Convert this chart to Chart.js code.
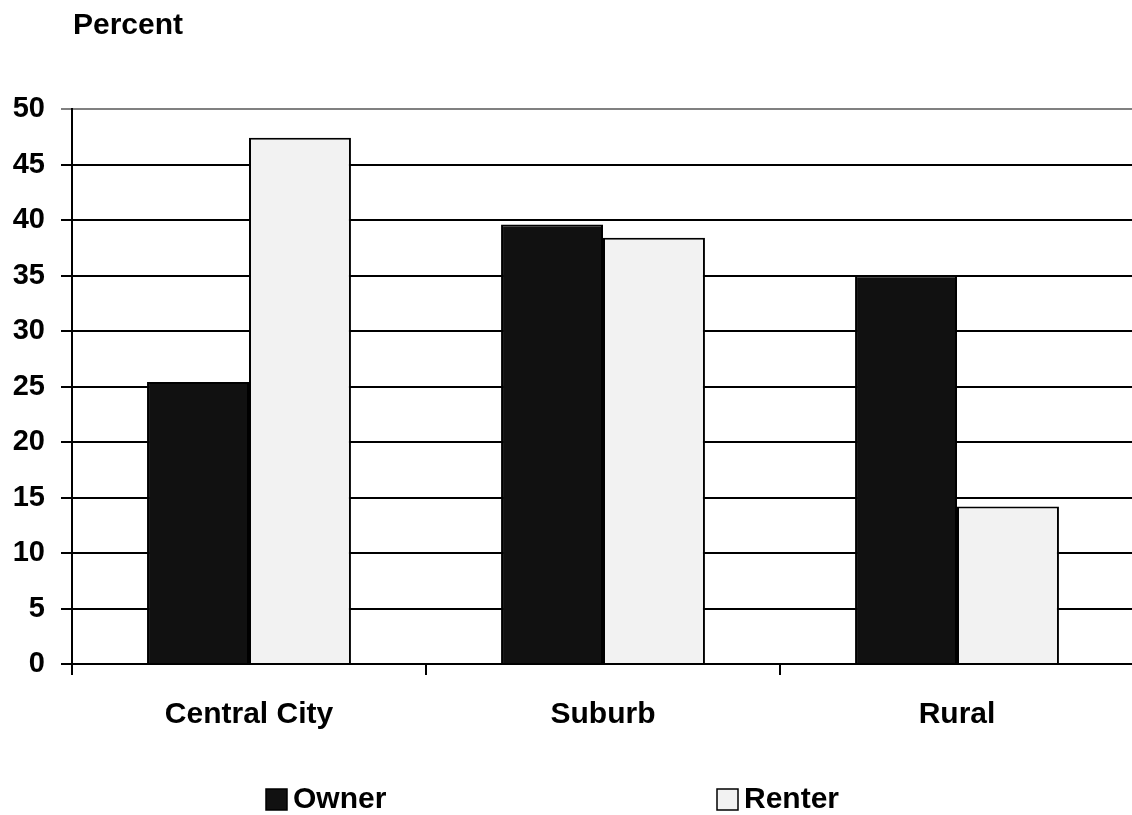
<!DOCTYPE html>
<html>
<head>
<meta charset="utf-8">
<script src="https://cdn.jsdelivr.net/npm/chart.js@4/dist/chart.umd.min.js"></script>
<style>
  html, body { margin: 0; padding: 0; background: #fff; overflow: hidden; }
  #wrap { width: 1132px; height: 815px; overflow: hidden; }
  canvas { display: block; }
</style>
</head>
<body>
<div id="wrap"><canvas id="c" width="1134" height="815"></canvas></div>
<script>
// Share of households by location, owners vs renters
const categories = ['Central City', 'Suburb', 'Rural'];
const ownerValues = [25.4, 39.6, 35.0];
const renterValues = [47.4, 38.4, 14.2];
const seriesNames = ['Owner', 'Renter'];
const axisTitle = 'Percent';
const yMin = 0, yMax = 50, yStep = 5;

const FONT = '"Liberation Sans", Arial, Helvetica, sans-serif';
const ownerFill = '#111111';
const renterFill = '#f2f2f2';

// Axis title and legend drawn straight onto the canvas
const decorations = {
  id: 'decorations',
  afterDraw(chart) {
    const ctx = chart.ctx;
    ctx.save();
    ctx.fillStyle = '#000';
    ctx.font = 'bold 30px ' + FONT;
    ctx.textAlign = 'left';
    ctx.textBaseline = 'middle';
    ctx.fillText(axisTitle, 73, 26);

    const items = [
      { x: 266, fill: ownerFill, label: chart.data.datasets[0].label },
      { x: 717, fill: renterFill, label: chart.data.datasets[1].label }
    ];
    items.forEach(it => {
      ctx.fillStyle = it.fill;
      ctx.fillRect(it.x, 789, 21, 21);
      ctx.strokeStyle = '#000';
      ctx.lineWidth = 1.5;
      ctx.strokeRect(it.x, 789, 21, 21);
      ctx.fillStyle = '#000';
      ctx.fillText(it.label, it.x + 27, 800);
    });
    ctx.restore();
  }
};

new Chart(document.getElementById('c'), {
  type: 'bar',
  data: {
    labels: categories,
    datasets: [
      { label: seriesNames[0], data: ownerValues, backgroundColor: ownerFill, borderColor: '#000', borderWidth: 2 },
      { label: seriesNames[1], data: renterValues, backgroundColor: renterFill, borderColor: '#000', borderWidth: 2 }
    ]
  },
  options: {
    responsive: false,
    animation: false,
    layout: { padding: { top: 109, left: 0, right: 0, bottom: 0 } },
    datasets: { bar: { categoryPercentage: 0.576, barPercentage: 1.0 } },
    plugins: { legend: { display: false }, tooltip: { enabled: false } },
    scales: {
      x: {
        afterFit(scale) { scale.height = 815 - 664; },
        grid: { display: true, drawOnChartArea: false, drawTicks: true, tickLength: 11, color: '#000', lineWidth: 2, offset: true },
        border: { display: true, color: '#000', width: 2 },
        ticks: { color: '#000', font: { family: FONT, size: 30, weight: 'bold' }, padding: 22, maxRotation: 0 }
      },
      y: {
        min: yMin, max: yMax,
        afterFit(scale) { scale.width = 72; },
        grid: {
          color: ctx => (ctx.tick && ctx.tick.value === yMax) ? '#808080' : '#000',
          lineWidth: 2, drawTicks: true, tickLength: 11
        },
        border: { display: true, color: '#000', width: 2 },
        ticks: { stepSize: yStep, color: '#000', font: { family: FONT, size: 29, weight: 'bold' }, padding: 16 }
      }
    }
  },
  plugins: [decorations]
});
</script>
</body>
</html>
